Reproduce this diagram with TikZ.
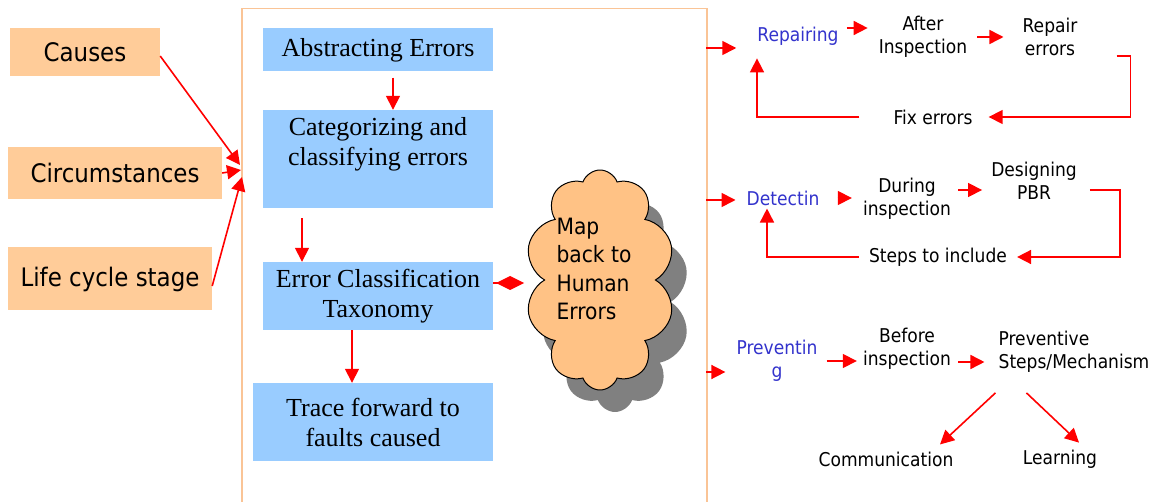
\documentclass[tikz,border=0pt]{standalone}
\usepackage{fontspec}
\setsansfont{DejaVu Sans Condensed}
\newfontfamily\stageserif{Liberation Serif}
\usetikzlibrary{arrows.meta,shapes.symbols,shadows}
\definecolor{boxorange}{RGB}{255,204,153}
\definecolor{framecol}{RGB}{250,196,150}
\definecolor{boxblue}{RGB}{153,204,255}
\definecolor{cloudorange}{RGB}{255,194,133}
\definecolor{textblue}{RGB}{51,51,204}
\tikzset{
  srcbox/.style={fill=boxorange, inner sep=0pt, font=\sffamily\fontsize{25.5}{30}\selectfont},
  stagefont/.style={font=\stageserif\fontsize{26}{30}\selectfont},
  stagebox/.style={fill=boxblue, minimum width=230pt, inner sep=0pt, align=center, stagefont},
  arr/.style={draw=red, line width=1.6pt, -{Triangle[length=14pt,width=14pt]}},
  act/.style={inner sep=3pt, align=center, font=\sffamily\fontsize{19}{23}\selectfont},
  goal/.style={act, text=textblue},
}
\begin{document}
\begin{tikzpicture}[x=1pt,y=-1pt]
\useasboundingbox (0,0) rectangle (1156,502);
% frame round the error stages
\node[draw=framecol, line width=1.5pt, minimum width=465pt, minimum height=520pt, inner sep=0pt, anchor=north west] (frame) at (241,8) {};
\coordinate (tip1) at (240,165);
\coordinate (tip2) at (241,170);
\coordinate (tip3) at (242,177);
\coordinate (out1) at (706,48);
\coordinate (out2) at (706,200);
\coordinate (out3) at (706,372);
% sources
\node[srcbox, minimum width=150pt, minimum height=48pt] (cau) at (85,52) {Causes};
\node[srcbox, minimum width=214pt, minimum height=52pt] (cir) at (115,173) {Circumstances};
\node[srcbox, minimum width=204pt, minimum height=63pt] (lif) at (110,279) {Life cycle stage};
% stages
\node[stagebox, minimum height=43pt] (abs) at (378,50) {Abstracting Errors};
\node[stagebox, minimum height=98pt, label={[stagefont, align=center, anchor=north, yshift=-4pt]north:Categorizing and\\classifying errors}] (cat) at (378,159) {};
\node[stagebox, minimum height=68pt] (ect) at (378,296) {Error Classification\\Taxonomy};
\node[stagebox, minimum width=240pt, minimum height=78pt] (trc) at (373,422) {Trace forward to\\faults caused};
\node[cloud, cloud puffs=10, cloud puff arc=140, aspect=0.69, draw=black, line width=1pt, fill=cloudorange, minimum width=150pt, minimum height=220pt, drop shadow={shadow xshift=15pt, shadow yshift=-22pt, fill=gray, opacity=1}, label={[align=left, xshift=-6pt, yshift=11pt, font=\sffamily\fontsize{22.5}{28.6}\selectfont]center:Map\\back to\\Human\\Errors}] (cld) at (600,280) {};
% repairing
\node[goal] (rep) at (798,36) {Repairing};
\node[act] (aft) at (923,37) {After\\Inspection};
\node[act] (rpe) at (1050,37) {Repair\\errors};
\node[act] (fix) at (933,117) {Fix errors};
% detecting
\node[goal] (det) at (783,198) {Detectin};
\node[act] (dur) at (907,199) {During\\inspection};
\node[act] (des) at (1034,181) {Designing\\PBR};
\node[act] (stp) at (938,257) {Steps to include};
% preventing
\node[goal] (prv) at (777,361) {Preventin\\g};
\node[act] (bef) at (907,349) {Before\\inspection};
\node[act, align=left] (pst) at (1074,352) {Preventive\\Steps/Mechanism};
\node[act] (com) at (886,459) {Communication};
\node[act] (lea) at (1060,459) {Learning};
% arrows
\draw[arr] ([yshift=-4pt]cau.east) -- (tip1);
\draw[arr] (cir.east) -- (tip2);
\draw[arr] ([yshift=-7pt]lif.east) -- (tip3);
\draw[arr, shorten <=6pt] ([xshift=15pt]abs.south) -- ([xshift=15pt]cat.north);
\draw[arr, shorten <=10pt] ([xshift=-76pt]cat.south) -- ([xshift=-76pt]ect.north);
\draw[arr] ([xshift=-26pt]ect.south) -- ([xshift=-21pt]trc.north);
\draw[red, line width=1.6pt, -{Diamond[length=28pt,width=14pt]}] ([yshift=13pt]ect.east) -- ++(31,0);
\draw[arr, shorten >=18pt] (out1) -- (out1 -| rep.west);
\draw[arr, shorten <=5pt, shorten >=8pt] ([yshift=8pt]rep.east) -- ([yshift=9pt]aft.west);
\draw[arr, shorten <=7pt, shorten >=16pt] (aft.east) -- (rpe.west);
\draw[arr, shorten >=13pt] ([xshift=36pt,yshift=-19pt]rpe.east) -- ++(14,0) |- (fix.east);
\draw[arr, shorten <=31pt, shorten >=10pt] (fix.west) -| ([xshift=-41pt]rep.south);
\draw[arr, shorten >=8pt] (out2) -- (out2 -| det.west);
\draw[arr, shorten <=15pt, shorten >=8pt] (det.east) -- (det.east -| dur.west);
\draw[arr, shorten <=4pt, shorten >=6pt] ([yshift=9pt]dur.east) -- ([yshift=-9pt]des.west);
\draw[arr, shorten >=7pt] ([xshift=10pt,yshift=-9pt]des.east) -- ++(30,0) |- (stp.east);
\draw[arr, shorten <=7pt] (stp.west) -| ([xshift=-16pt]det.south);
\draw[arr, shorten >=8pt] (out3) -- (out3 -| prv.west);
\draw[arr, shorten <=6pt, shorten >=3pt] (prv.east) -- (prv.east -| bef.west);
\draw[arr, shorten <=4pt, shorten >=11pt] ([yshift=-13pt]bef.east) -- ([yshift=-10pt]pst.west);
\draw[arr] ([yshift=-17pt]pst.south west) -- ([xshift=54pt,yshift=4pt]com.north);
\draw[arr] ([xshift=31pt,yshift=-17pt]pst.south west) -- ([xshift=19pt,yshift=4pt]lea.north);
\end{tikzpicture}
\end{document}
